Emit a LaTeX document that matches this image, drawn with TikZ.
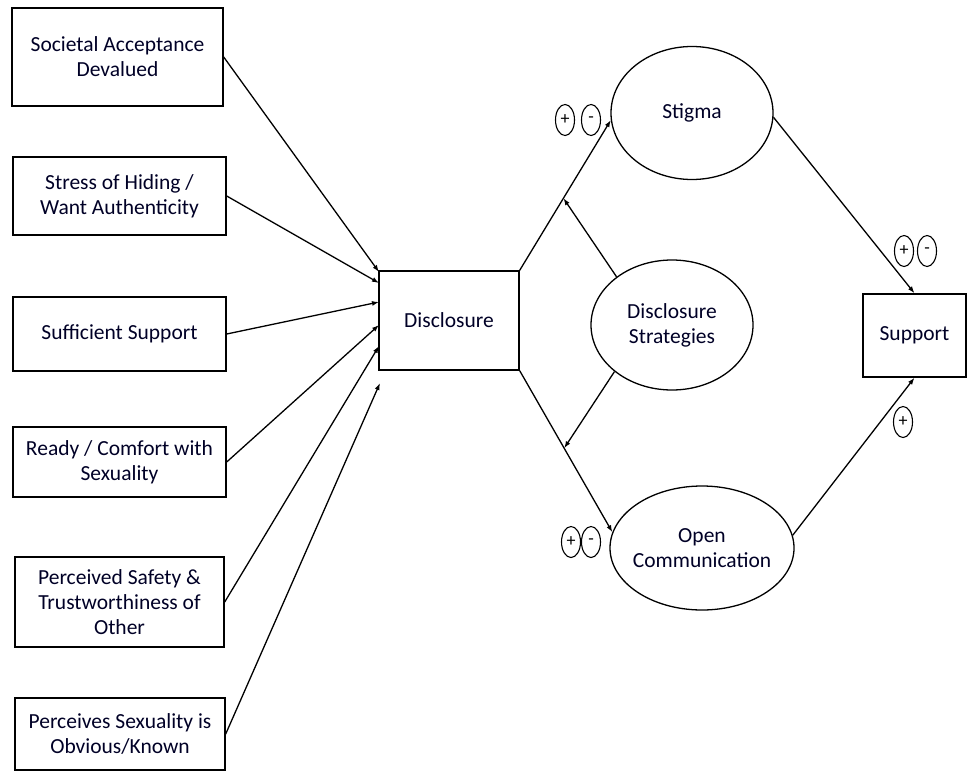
\documentclass[tikz,border=0pt]{standalone}
\usepackage{fontspec}
\setmainfont{Carlito}
\usetikzlibrary{shapes.geometric,arrows.meta,calc}
\begin{document}
\begin{tikzpicture}[x=1pt,y=-1pt,
  box/.style={draw,line width=1.4pt,align=center,inner sep=2pt,font=\fontsize{21.5}{25}\selectfont,text=black!85!blue},
  oval/.style={draw,ellipse,line width=1.3pt,align=center,inner ysep=0pt,inner xsep=-25pt,font=\fontsize{21.5}{25}\selectfont,text=black!85!blue},
  sign/.style={draw,ellipse,line width=1.1pt,inner sep=0pt,minimum width=19pt,minimum height=31pt,font=\fontsize{18}{18}\selectfont},
  arr/.style={line width=1.3pt,-{Latex[length=7pt,width=5pt]}}]
\useasboundingbox (0,0) rectangle (968,773);
% left boxes
\node[box,minimum width=211pt,minimum height=98pt] (b1) at (117.5,57) {Societal Acceptance\\Devalued};
\node[box,minimum width=213pt,minimum height=78pt] (b2) at (119.5,196) {Stress of Hiding /\\Want Authenticity};
\node[box,minimum width=213pt,minimum height=74pt] (b3) at (119.5,334) {Sufficient Support};
\node[box,minimum width=213pt,minimum height=70pt] (b4) at (119.5,462) {Ready / Comfort with\\Sexuality};
\node[box,minimum width=209pt,minimum height=90pt] (b5) at (119.5,602) {Perceived Safety \&\\Trustworthiness of\\Other};
\node[box,minimum width=210pt,minimum height=72pt] (b6) at (120,734) {Perceives Sexuality is\\Obvious/Known};
% central
\node[box,minimum width=140pt,minimum height=99pt] (D) at (449,320.5) {Disclosure};
\node[box,minimum width=103pt,minimum height=83pt] (Sup) at (914.5,335.5) {Support};
\node[oval,minimum width=162pt,minimum height=133pt] (S) at (692,113) {Stigma};
\node[oval,minimum width=162pt,minimum height=130pt] (DS) at (672,325) {Disclosure\\Strategies};
\node[oval,minimum width=184pt,minimum height=124pt] (OC) at (702,548) {Open\\Communication};
% arrow targets on Disclosure
\coordinate (t1) at (379,272);
\coordinate (t2) at (379,283);
\coordinate (t3) at (379,302);
\coordinate (t4) at (379,325);
\coordinate (t5) at (379,346);
\coordinate (t6) at (380,383);
\draw[arr] (b1.east) -- (t1);
\draw[arr] (b2.east) -- (t2);
\draw[arr] (b3.east) -- (t3);
\draw[arr] (b4.east) -- (t4);
\draw[arr] (b5.east) -- (t5);
\draw[arr] (b6.east) -- (t6);
% disclosure outputs
\draw[arr] (D.north east) -- (S.185);
\draw[arr] (D.south east) -- (OC.170);
\coordinate (m1) at ($(D.north east)!0.48!(S.185)$);
\coordinate (m2) at ($(D.south east)!0.48!(OC.170)$);
\draw[arr] (DS.139) -- (m1);
\draw[arr] (DS.219) -- (m2);
% to support
\draw[arr] (S.357) -- (Sup.north);
\draw[arr] (OC.8) -- (Sup.south);
% signs
\node[sign] (p1) at (565,120) {+};
\node[sign] (n1) at (591,120) {-};
\node[sign] (p2) at (904,251) {+};
\node[sign] (n2) at (927,251) {-};
\node[sign] (p3) at (903,422) {+};
\node[sign] (p4) at (571,542) {+};
\node[sign] (n4) at (591,542) {-};
\end{tikzpicture}
\end{document}
